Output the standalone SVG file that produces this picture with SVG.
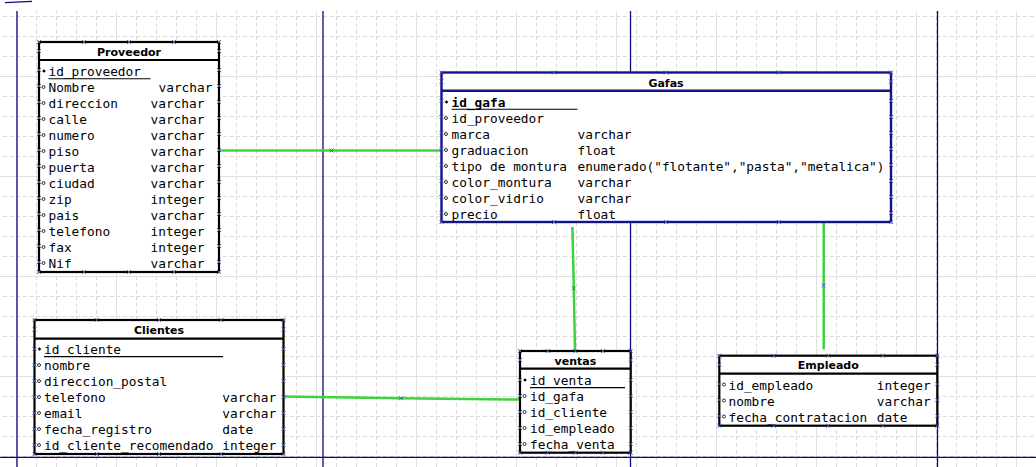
<svg xmlns="http://www.w3.org/2000/svg" width="1036" height="467" viewBox="0 0 1036 467">
<style>
.t{font-family:"DejaVu Sans Mono","Liberation Mono",monospace;font-size:12.8px;fill:#000}
.kb{font-weight:bold}
.h{font-family:"DejaVu Sans","Liberation Sans",sans-serif;font-size:11px;font-weight:bold;text-anchor:middle;fill:#000}
.box{fill:#fff;stroke:#000;stroke-width:2.2}
.sep{stroke:#000;stroke-width:2.2}
.nbox{fill:#fff;stroke:#13138a;stroke-width:2.4}
.nsep{stroke:#13138a;stroke-width:2.4}
.ul{stroke:#000;stroke-width:1.1}
.pk{fill:#000}
.at{fill:none;stroke:#000;stroke-width:0.8}
.cpl{fill:none;stroke:none;marker-start:url(#cp);marker-mid:url(#cp);marker-end:url(#cp)}
.con{fill:none;stroke:#3cd43c;stroke-width:2.5;marker-mid:url(#cp)}
.page{stroke:#0a0a80;stroke-width:1.3;fill:none}
.maj{stroke:#e0e0e0;stroke-width:1}
</style>
<defs>
<pattern id="grid" patternUnits="userSpaceOnUse" x="16" y="16" width="20" height="20">
<path d="M0.5,0 V20 M0,0.5 H20" stroke="#dadada" stroke-width="1" stroke-dasharray="4,3" fill="none"/>
</pattern>
<marker id="cp" markerUnits="userSpaceOnUse" markerWidth="6" markerHeight="6" refX="3" refY="3" overflow="visible">
<path d="M1,1 L5,5 M1,5 L5,1" stroke="#4a58a8" stroke-width="0.9" fill="none"/>
</marker>
<path id="pkd" d="M0,-1.8 L1.8,0 L0,1.8 L-1.8,0 Z"/>
</defs>

<g id="background">
<rect x="0" y="0" width="1036" height="467" fill="#fff"/>
<rect x="0" y="11" width="1036" height="456" fill="url(#grid)"/>
<path class="maj" d="M16.5,11 V467 M116.5,11 V467 M216.5,11 V467 M316.5,11 V467 M416.5,11 V467 M516.5,11 V467 M616.5,11 V467 M716.5,11 V467 M816.5,11 V467 M916.5,11 V467 M1016.5,11 V467 M0,76.5 H1036 M0,176.5 H1036 M0,276.5 H1036 M0,376.5 H1036"/>
<path class="page" d="M17,11 V467 M323,11 V467 M630.5,11 V467 M937.5,11 V467 M0,457.3 H1036"/>
<path class="page" d="M5,2.6 L32,1.4" stroke-width="1.5"/>
</g>

<g id="connectors">
<path class="con" d="M219,150.5 L331.5,150.5 L441.5,150.5"/>
<path class="con" d="M283.5,396.6 L401,398.2 L520,399.6"/>
<path class="con" d="M572.4,227 L573.8,288.3 L575,350.5"/>
<path class="con" d="M823.7,220 L823.7,285.5 L823.7,349.5"/>
</g>

<g id="node-proveedor">
<rect class="box" x="39" y="42" width="180" height="230"/>
<line class="sep" x1="39" y1="60" x2="219" y2="60"/>
<text class="h" x="129" y="55.5">Proveedor</text>
<use href="#pkd" class="pk" x="44" y="71"/>
<g class="at"><circle cx="43.5" cy="87" r="1.5"/><circle cx="43.5" cy="103" r="1.5"/><circle cx="43.5" cy="119" r="1.5"/><circle cx="43.5" cy="135" r="1.5"/><circle cx="43.5" cy="151" r="1.5"/><circle cx="43.5" cy="167" r="1.5"/><circle cx="43.5" cy="183" r="1.5"/><circle cx="43.5" cy="199" r="1.5"/><circle cx="43.5" cy="215" r="1.5"/><circle cx="43.5" cy="231" r="1.5"/><circle cx="43.5" cy="247" r="1.5"/><circle cx="43.5" cy="263" r="1.5"/></g>
<text class="t" x="48.5" y="76">id_proveedor</text>
<line class="ul" x1="48.5" y1="78.8" x2="150.5" y2="78.8"/>
<text class="t" x="48.5" y="92">Nombre</text><text class="t" x="158.5" y="92">varchar</text>
<text class="t" x="48.5" y="108">direccion</text><text class="t" x="150.5" y="108">varchar</text>
<text class="t" x="48.5" y="124">calle</text><text class="t" x="150.5" y="124">varchar</text>
<text class="t" x="48.5" y="140">numero</text><text class="t" x="150.5" y="140">varchar</text>
<text class="t" x="48.5" y="156">piso</text><text class="t" x="150.5" y="156">varchar</text>
<text class="t" x="48.5" y="172">puerta</text><text class="t" x="150.5" y="172">varchar</text>
<text class="t" x="48.5" y="188">ciudad</text><text class="t" x="150.5" y="188">varchar</text>
<text class="t" x="48.5" y="204">zip</text><text class="t" x="150.5" y="204">integer</text>
<text class="t" x="48.5" y="220">pais</text><text class="t" x="150.5" y="220">varchar</text>
<text class="t" x="48.5" y="236">telefono</text><text class="t" x="150.5" y="236">integer</text>
<text class="t" x="48.5" y="252">fax</text><text class="t" x="150.5" y="252">integer</text>
<text class="t" x="48.5" y="268">Nif</text><text class="t" x="150.5" y="268">varchar</text>
<polyline class="cpl" points="39,42 84,42 129,42 174,42 219,42 219,51 219,70 219,86 219,102 219,118 219,134 219,150 219,166 219,182 219,198 219,214 219,230 219,246 219,262 219,272 174,272 129,272 84,272 39,272 39,262 39,246 39,230 39,214 39,198 39,182 39,166 39,150 39,134 39,118 39,102 39,86 39,70 39,51"/>
</g>

<g id="node-gafas">
<rect class="nbox" x="441.5" y="72.5" width="449.5" height="149.5"/>
<line class="nsep" x1="441.5" y1="90.7" x2="891" y2="90.7"/>
<text class="h" x="666" y="86.5">Gafas</text>
<use href="#pkd" class="pk" x="446.5" y="102"/>
<g class="at"><circle cx="446" cy="118" r="1.5"/><circle cx="446" cy="134" r="1.5"/><circle cx="446" cy="150" r="1.5"/><circle cx="446" cy="166" r="1.5"/><circle cx="446" cy="182" r="1.5"/><circle cx="446" cy="198" r="1.5"/><circle cx="446" cy="214" r="1.5"/></g>
<text class="t kb" x="451.5" y="107">id_gafa</text>
<line class="ul" x1="451.5" y1="109.3" x2="577.5" y2="109.3"/>
<text class="t" x="451.5" y="123">id_proveedor</text>
<text class="t" x="451.5" y="139">marca</text><text class="t" x="577.5" y="139">varchar</text>
<text class="t" x="451.5" y="155">graduacion</text><text class="t" x="577.5" y="155">float</text>
<text class="t" x="451.5" y="171">tipo de montura</text><text class="t" x="577.5" y="171" textLength="307" lengthAdjust="spacing">enumerado("flotante","pasta","metalica")</text>
<text class="t" x="451.5" y="187">color_montura</text><text class="t" x="577.5" y="187">varchar</text>
<text class="t" x="451.5" y="203">color_vidrio</text><text class="t" x="577.5" y="203">varchar</text>
<text class="t" x="451.5" y="219">precio</text><text class="t" x="577.5" y="219">float</text>
<polyline class="cpl" points="441.5,72.5 554,72.5 666,72.5 779,72.5 891,72.5 891,81.5 891,101 891,117 891,133 891,149 891,165 891,181 891,197 891,213 891,222 779,222 666,222 554,222 441.5,222 441.5,213 441.5,197 441.5,181 441.5,165 441.5,149 441.5,133 441.5,117 441.5,101 441.5,81.5"/>
</g>

<g id="node-clientes">
<rect class="box" x="34.5" y="320" width="249" height="134"/>
<line class="sep" x1="34.5" y1="338.7" x2="283.5" y2="338.7"/>
<text class="h" x="159" y="334">Clientes</text>
<use href="#pkd" class="pk" x="39.5" y="349"/>
<g class="at"><circle cx="39" cy="365" r="1.5"/><circle cx="39" cy="381" r="1.5"/><circle cx="39" cy="397" r="1.5"/><circle cx="39" cy="413" r="1.5"/><circle cx="39" cy="429" r="1.5"/><circle cx="39" cy="445" r="1.5"/></g>
<text class="t" x="44" y="354">id_cliente</text>
<line class="ul" x1="44" y1="356.6" x2="223" y2="356.6"/>
<text class="t" x="44" y="370">nombre</text>
<text class="t" x="44" y="386">direccion_postal</text>
<text class="t" x="44" y="402">telefono</text><text class="t" x="222.3" y="402">varchar</text>
<text class="t" x="44" y="418">email</text><text class="t" x="222.3" y="418">varchar</text>
<text class="t" x="44" y="434">fecha_registro</text><text class="t" x="222.3" y="434">date</text>
<text class="t" x="44" y="450">id_cliente_recomendado</text><text class="t" x="222.3" y="450">integer</text>
<polyline class="cpl" points="34.5,320 96.75,320 159,320 221.25,320 283.5,320 283.5,329.5 283.5,349 283.5,365 283.5,381 283.5,397 283.5,413 283.5,429 283.5,445 283.5,454 221.25,454 159,454 96.75,454 34.5,454 34.5,445 34.5,429 34.5,413 34.5,397 34.5,381 34.5,365 34.5,349 34.5,329.5"/>
</g>

<g id="node-ventas">
<rect class="box" x="520" y="351" width="110.7" height="101.7"/>
<line class="sep" x1="520" y1="368.7" x2="630.7" y2="368.7"/>
<text class="h" x="575.4" y="364.5">ventas</text>
<use href="#pkd" class="pk" x="525" y="380"/>
<g class="at"><circle cx="524.5" cy="396" r="1.5"/><circle cx="524.5" cy="412" r="1.5"/><circle cx="524.5" cy="428" r="1.5"/><circle cx="524.5" cy="444" r="1.5"/></g>
<text class="t" x="530" y="385">id_venta</text>
<line class="ul" x1="530" y1="387.6" x2="625" y2="387.6"/>
<text class="t" x="530" y="401">id_gafa</text>
<text class="t" x="530" y="417">id_cliente</text>
<text class="t" x="530" y="433">id_empleado</text>
<text class="t" x="530" y="449">fecha_venta</text>
<polyline class="cpl" points="520,351 547.7,351 575.4,351 603,351 630.7,351 630.7,360 630.7,380 630.7,396 630.7,412 630.7,428 630.7,444 630.7,452.7 603,452.7 575.4,452.7 547.7,452.7 520,452.7 520,444 520,428 520,412 520,396 520,380 520,360"/>
</g>

<g id="node-empleado">
<rect class="box" x="719.3" y="355.7" width="218" height="70"/>
<line class="sep" x1="719.3" y1="373.7" x2="937.3" y2="373.7"/>
<text class="h" x="828.3" y="369.3">Empleado</text>
<g class="at"><circle cx="724" cy="384.5" r="1.5"/><circle cx="724" cy="400.5" r="1.5"/><circle cx="724" cy="416.5" r="1.5"/></g>
<text class="t" x="728.5" y="389.5">id_empleado</text><text class="t" x="876.7" y="389.5">integer</text>
<text class="t" x="728.5" y="405.5">nombre</text><text class="t" x="876.7" y="405.5">varchar</text>
<text class="t" x="728.5" y="421.5">fecha_contratacion</text><text class="t" x="876.7" y="421.5">date</text>
<polyline class="cpl" points="719.3,355.7 773.8,355.7 828.3,355.7 882.8,355.7 937.3,355.7 937.3,364.7 937.3,384 937.3,400 937.3,416 937.3,425.7 882.8,425.7 828.3,425.7 773.8,425.7 719.3,425.7 719.3,416 719.3,400 719.3,384 719.3,364.7"/>
</g>
</svg>
